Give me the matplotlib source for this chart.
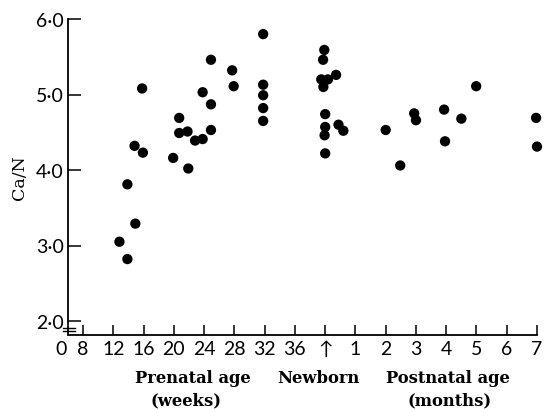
import matplotlib
matplotlib.use("Agg")
import matplotlib.pyplot as plt
from matplotlib.lines import Line2D

# ---- data ----
prenatal_weeks = [12.8, 13.85, 13.85, 14.9, 14.8, 15.9, 15.8, 19.9, 20.7, 20.7,
                  21.8, 21.9, 22.8, 23.8, 23.8, 24.9, 24.9, 24.9, 27.7, 27.9,
                  31.8, 31.8, 31.8, 31.8, 31.8]
prenatal_ca_n = [3.05, 2.82, 3.81, 3.29, 4.32, 4.23, 5.08, 4.16, 4.69, 4.49,
                 4.51, 4.02, 4.39, 4.41, 5.03, 4.53, 4.87, 5.46, 5.32, 5.11,
                 5.80, 5.13, 4.99, 4.82, 4.65]
newborn_jitter = [-0.03, -0.07, -0.13, 0.09, -0.06, 0.0, 0.0, -0.02, 0.0]
newborn_ca_n = [5.59, 5.46, 5.20, 5.20, 5.10, 4.74, 4.57, 4.46, 4.22]
postnatal_months = [0.36, 0.44, 0.6, 2.0, 2.48, 2.94, 3.0, 3.93, 3.96, 4.5,
                    4.99, 6.97, 7.0]
postnatal_ca_n = [5.26, 4.60, 4.52, 4.53, 4.06, 4.75, 4.66, 4.80, 4.38, 4.68,
                  5.11, 4.69, 4.31]

week_ticks = [8, 12, 16, 20, 24, 28, 32, 36]
month_ticks = [1, 2, 3, 4, 5, 6, 7]
y_ticks = [2.0, 3.0, 4.0, 5.0, 6.0]
y_tick_labels = ["2\u00b70", "3\u00b70", "4\u00b70", "5\u00b70", "6\u00b70"]

# axis mapping: prenatal weeks (8..36) -> 0..7, newborn -> 8, months -> 8+m
def wk(w):
    return (w - 8) / 4.0

NEWBORN = 8.0

def mo(m):
    return NEWBORN + m

sans = ["Lato", "DejaVu Sans"]
serif = ["DejaVu Serif"]
TICK_FS = 14
XPAD = 3.5

fig = plt.figure(figsize=(5.45, 4.10), dpi=100)
ax = fig.add_axes([68 / 545, 1 - 336 / 410, (537 - 68) / 545, (336 - 20) / 410])

xs = [wk(w) for w in prenatal_weeks] + [NEWBORN + j for j in newborn_jitter] + [mo(m) for m in postnatal_months]
ys = prenatal_ca_n + newborn_ca_n + postnatal_ca_n
ax.scatter(xs, ys, s=55, color="black", edgecolors="none", clip_on=False, zorder=3)

ax.set_xlim(-0.5, 15)
ax.set_ylim(2 - 14 / 75.5, 6.0)

xt = [wk(w) for w in week_ticks] + [NEWBORN] + [mo(m) for m in month_ticks]
xl = [str(w) for w in week_ticks] + ["\u2191"] + [str(m) for m in month_ticks]
ax.set_xticks(xt)
ax.set_xticklabels(xl, family=sans, fontsize=TICK_FS)
ax.set_yticks(y_ticks)
ax.set_yticklabels(y_tick_labels, family=sans, fontsize=TICK_FS)

ax.tick_params(axis="x", direction="in", length=7, width=1.1, pad=XPAD)
ax.tick_params(axis="y", direction="in", length=9, width=1.1, pad=3)

for s in ["top", "right"]:
    ax.spines[s].set_visible(False)
ax.spines["bottom"].set_linewidth(1.3)
ax.spines["left"].set_linewidth(1.3)
ax.spines["left"].set_bounds(1.955, 6.0)

# axis break symbol near origin
for yb in [1.905, 1.87]:
    ax.add_line(Line2D([-0.66, -0.28], [yb, yb], color="black", lw=1.0, clip_on=False))
ax.add_line(Line2D([-0.5, -0.5], [1.94, 1.83], color="black", lw=1.3, clip_on=False))

# "0" origin label, aligned with the other x tick labels
ax.annotate("0", xy=(-0.72, 0), xycoords=("data", "axes fraction"),
            xytext=(0, -XPAD), textcoords="offset points",
            family=sans, fontsize=TICK_FS, ha="center", va="top", annotation_clip=False)

ax.set_ylabel("Ca/N", family=serif, fontsize=12.5, labelpad=6)

lab = dict(family=serif, fontsize=11.8, fontweight="bold", ha="center", va="baseline")
fig.text(193 / 545, 1 - 383 / 410, "Prenatal age", **lab)
fig.text(186 / 545, 1 - 405 / 410, "(weeks)", **lab)
fig.text(318 / 545, 1 - 383 / 410, "Newborn", **lab)
fig.text(448 / 545, 1 - 383 / 410, "Postnatal age", **lab)
fig.text(450 / 545, 1 - 405 / 410, "(months)", **lab)

fig.savefig("out.png", dpi=100)
